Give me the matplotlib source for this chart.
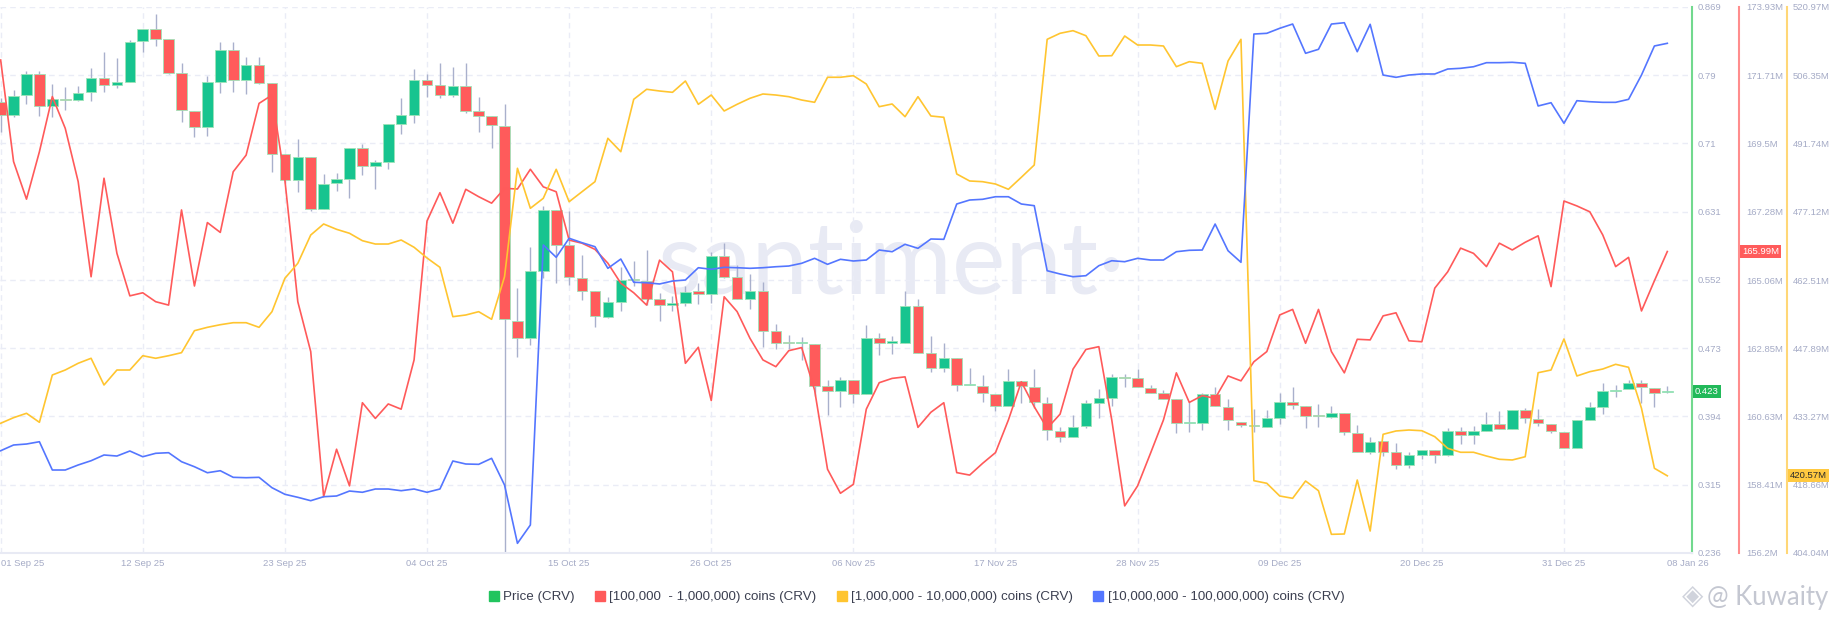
import numpy as np
import pandas as pd
import matplotlib
matplotlib.use("Agg")
import matplotlib.pyplot as plt
import matplotlib.dates as mdates
from matplotlib.lines import Line2D

plt.rcParams['font.family'] = ['Liberation Sans', 'DejaVu Sans']

# daily data, 01 Sep 25 -> 08 Jan 26
dates = pd.date_range("2025-09-01", "2026-01-08", freq="D")

open_ = [0.759, 0.744, 0.767, 0.791, 0.754, 0.762, 0.761, 0.770, 0.787, 0.778,
         0.782, 0.830, 0.843, 0.832, 0.793, 0.749, 0.730, 0.782, 0.819, 0.784,
         0.802, 0.781, 0.699, 0.668, 0.695, 0.635, 0.665, 0.670, 0.705, 0.685,
         0.689, 0.733, 0.744, 0.784, 0.778, 0.767, 0.777, 0.748, 0.743, 0.731,
         0.505, 0.485, 0.563, 0.634, 0.593, 0.555, 0.540, 0.510, 0.527, 0.553,
         0.551, 0.530, 0.524, 0.526, 0.540, 0.536, 0.580, 0.556, 0.530, 0.540,
         0.493, 0.480, 0.479, 0.478, 0.430, 0.424, 0.437, 0.420, 0.485, 0.480,
         0.480, 0.522, 0.468, 0.451, 0.462, 0.4308, 0.430, 0.420, 0.407, 0.435,
         0.429, 0.410, 0.378, 0.371, 0.383, 0.410, 0.416, 0.4397, 0.439, 0.427,
         0.421, 0.415, 0.3868, 0.387, 0.420, 0.405, 0.388, 0.3836, 0.382, 0.392,
         0.411, 0.407, 0.3949, 0.394, 0.398, 0.375, 0.353, 0.366, 0.353, 0.338,
         0.350, 0.355, 0.350, 0.377, 0.373, 0.377, 0.386, 0.380, 0.402, 0.391,
         0.386, 0.376, 0.358, 0.390, 0.405, 0.424, 0.426, 0.433, 0.427, 0.4225]
high = [0.764, 0.773, 0.795, 0.795, 0.780, 0.776, 0.777, 0.798, 0.817, 0.810,
        0.831, 0.843, 0.861, 0.832, 0.804, 0.749, 0.789, 0.828, 0.829, 0.811,
        0.811, 0.781, 0.699, 0.716, 0.695, 0.675, 0.676, 0.705, 0.710, 0.692,
        0.733, 0.763, 0.797, 0.791, 0.804, 0.799, 0.804, 0.765, 0.743, 0.757,
        0.543, 0.591, 0.638, 0.634, 0.633, 0.582, 0.540, 0.533, 0.568, 0.574,
        0.587, 0.537, 0.534, 0.545, 0.549, 0.585, 0.595, 0.570, 0.560, 0.550,
        0.502, 0.489, 0.486, 0.478, 0.437, 0.440, 0.437, 0.500, 0.491, 0.487,
        0.540, 0.531, 0.488, 0.479, 0.462, 0.450, 0.442, 0.420, 0.449, 0.435,
        0.449, 0.417, 0.382, 0.396, 0.413, 0.426, 0.444, 0.444, 0.449, 0.431,
        0.425, 0.415, 0.411, 0.422, 0.428, 0.414, 0.388, 0.403, 0.402, 0.422,
        0.428, 0.407, 0.409, 0.407, 0.398, 0.384, 0.370, 0.366, 0.363, 0.353,
        0.355, 0.355, 0.381, 0.382, 0.383, 0.400, 0.401, 0.402, 0.404, 0.403,
        0.386, 0.376, 0.390, 0.411, 0.433, 0.431, 0.437, 0.437, 0.427, 0.430]
low = [0.724, 0.742, 0.757, 0.743, 0.741, 0.750, 0.760, 0.760, 0.771, 0.775,
       0.782, 0.817, 0.824, 0.791, 0.736, 0.718, 0.720, 0.769, 0.771, 0.768,
       0.780, 0.678, 0.665, 0.655, 0.633, 0.635, 0.656, 0.648, 0.674, 0.658,
       0.681, 0.722, 0.735, 0.765, 0.764, 0.765, 0.746, 0.724, 0.705, 0.236,
       0.463, 0.477, 0.555, 0.549, 0.547, 0.529, 0.498, 0.508, 0.516, 0.545,
       0.524, 0.505, 0.516, 0.522, 0.525, 0.526, 0.555, 0.530, 0.519, 0.475,
       0.472, 0.473, 0.460, 0.418, 0.396, 0.405, 0.410, 0.420, 0.466, 0.467,
       0.479, 0.468, 0.446, 0.446, 0.424, 0.431, 0.411, 0.401, 0.407, 0.410,
       0.404, 0.367, 0.365, 0.371, 0.381, 0.392, 0.406, 0.429, 0.428, 0.421,
       0.415, 0.375, 0.376, 0.379, 0.406, 0.379, 0.382, 0.376, 0.382, 0.386,
       0.403, 0.381, 0.382, 0.392, 0.373, 0.353, 0.351, 0.348, 0.333, 0.335,
       0.345, 0.340, 0.348, 0.362, 0.362, 0.377, 0.380, 0.380, 0.387, 0.383,
       0.375, 0.358, 0.358, 0.390, 0.397, 0.417, 0.426, 0.410, 0.405, 0.421]
close = [0.744, 0.766, 0.791, 0.754, 0.762, 0.761, 0.769, 0.787, 0.779, 0.782,
         0.829, 0.843, 0.832, 0.793, 0.750, 0.730, 0.782, 0.819, 0.784, 0.802,
         0.781, 0.699, 0.668, 0.695, 0.635, 0.664, 0.670, 0.705, 0.685, 0.689,
         0.733, 0.744, 0.784, 0.779, 0.767, 0.777, 0.748, 0.743, 0.732, 0.507,
         0.485, 0.563, 0.634, 0.593, 0.556, 0.540, 0.511, 0.527, 0.553, 0.552,
         0.530, 0.524, 0.526, 0.539, 0.536, 0.580, 0.556, 0.530, 0.540, 0.493,
         0.480, 0.479, 0.480, 0.430, 0.424, 0.437, 0.420, 0.485, 0.480, 0.481,
         0.522, 0.468, 0.451, 0.462, 0.431, 0.4312, 0.421, 0.407, 0.435, 0.430,
         0.411, 0.379, 0.371, 0.382, 0.410, 0.416, 0.440, 0.4392, 0.428, 0.422,
         0.415, 0.387, 0.3872, 0.420, 0.406, 0.390, 0.384, 0.3832, 0.392, 0.411,
         0.408, 0.395, 0.3945, 0.398, 0.376, 0.353, 0.365, 0.353, 0.338, 0.350,
         0.355, 0.350, 0.377, 0.373, 0.377, 0.386, 0.380, 0.402, 0.392, 0.387,
         0.377, 0.358, 0.390, 0.405, 0.424, 0.425, 0.433, 0.428, 0.421, 0.423]

# [100,000 - 1,000,000) coins, in millions of CRV
holders_100k_1m = [172.21, 168.91, 167.69, 169.23, 171.02, 169.99, 168.26, 165.17, 168.37, 165.93,
                   164.55, 164.65, 164.36, 164.25, 167.34, 164.87, 166.93, 166.61, 168.58, 169.12,
                   170.80, 171.07, 168.31, 164.36, 162.74, 158.03, 159.57, 158.38, 161.08, 160.57,
                   161.04, 160.87, 162.47, 166.98, 167.90, 166.91, 168.01, 167.77, 167.56, 168.04,
                   168.02, 168.66, 168.09, 167.93, 166.36, 166.26, 166.06, 165.61, 164.96, 164.65,
                   164.25, 165.71, 165.33, 162.36, 162.88, 161.15, 164.52, 164.04, 163.17, 162.47,
                   162.25, 162.77, 162.87, 161.49, 158.92, 158.14, 158.43, 160.87, 161.73, 161.87,
                   161.92, 160.28, 160.77, 161.08, 158.81, 158.73, 159.11, 159.46, 160.52, 161.76,
                   160.95, 160.25, 160.71, 162.17, 162.81, 162.90, 160.52, 157.73, 158.38, 159.44,
                   160.52, 162.05, 161.09, 161.31, 161.22, 161.95, 161.79, 162.41, 162.74, 163.93,
                   164.11, 163.01, 164.11, 162.74, 162.05, 163.14, 163.12, 163.90, 164.00, 163.09,
                   163.06, 164.80, 165.33, 166.10, 165.93, 165.50, 166.26, 166.04, 166.29, 166.50,
                   164.85, 167.63, 167.47, 167.28, 166.53, 165.50, 165.80, 164.06, 165.04, 165.99]

# [1,000,000 - 10,000,000) coins, in millions of CRV
holders_1m_10m = [431.82, 433.02, 433.96, 432.03, 442.16, 443.23, 444.67, 445.74, 440.02, 443.23,
                  443.23, 446.29, 445.74, 446.29, 446.94, 451.65, 452.37, 452.93, 453.36, 453.36,
                  452.37, 455.72, 462.87, 466.08, 472.14, 474.50, 473.36, 472.51, 470.92, 470.21,
                  470.21, 471.07, 469.51, 467.22, 465.22, 454.65, 455.01, 455.72, 454.09, 463.21,
                  486.43, 477.86, 480.00, 486.21, 479.27, 481.42, 483.56, 492.85, 489.98, 501.20,
                  503.35, 502.98, 502.70, 505.12, 500.13, 502.12, 498.70, 500.13, 501.42, 502.34,
                  502.12, 501.76, 501.05, 500.56, 505.92, 505.92, 506.26, 504.48, 499.62, 500.20,
                  497.48, 501.76, 497.63, 497.35, 485.21, 483.71, 483.56, 483.06, 481.93, 484.50,
                  487.13, 514.05, 515.34, 515.90, 514.82, 510.48, 510.54, 514.76, 512.83, 512.83,
                  512.62, 508.19, 509.26, 508.91, 499.06, 509.41, 514.05, 419.52, 418.97, 416.25,
                  415.75, 419.46, 417.38, 408.04, 408.11, 419.67, 408.75, 429.46, 430.17, 430.38,
                  430.23, 428.95, 426.46, 425.61, 425.61, 424.81, 424.11, 423.96, 424.66, 442.65,
                  443.23, 449.87, 441.95, 442.87, 443.44, 444.45, 443.81, 435.03, 422.18, 420.57]

# [10,000,000 - 100,000,000) coins, no axis on the chart -> relative index
holders_10m_100m = [18.73, 19.78, 19.96, 20.38, 15.20, 15.20, 16.12, 16.90, 17.95, 17.76,
                    18.68, 17.63, 18.26, 18.37, 16.72, 15.80, 14.70, 15.07, 13.86, 13.79,
                    13.86, 11.96, 10.75, 10.20, 9.58, 10.31, 10.44, 11.35, 11.12, 11.72,
                    11.72, 11.41, 11.72, 11.12, 11.72, 16.85, 16.30, 16.24, 17.34, 12.45,
                    1.77, 5.13, 56.41, 54.16, 57.64, 56.83, 56.10, 52.14, 53.84, 49.58,
                    49.50, 49.27, 49.81, 50.00, 52.25, 51.96, 52.32, 52.25, 52.14, 52.25,
                    52.43, 52.56, 53.06, 53.97, 52.87, 53.79, 53.48, 53.66, 55.49, 55.18,
                    56.54, 55.80, 57.51, 57.45, 63.92, 64.65, 64.78, 65.25, 65.25, 63.92,
                    63.61, 51.70, 51.10, 50.60, 50.79, 52.62, 53.53, 53.35, 53.97, 53.66,
                    53.66, 55.18, 55.44, 55.49, 60.25, 55.36, 53.24, 95.05, 95.18, 96.10,
                    96.88, 91.52, 92.25, 96.88, 97.12, 91.81, 96.83, 87.54, 87.12, 87.54,
                    87.73, 87.73, 88.64, 88.77, 89.06, 89.80, 89.80, 89.87, 89.69, 81.87,
                    82.47, 78.70, 82.84, 82.65, 82.54, 82.54, 83.09, 87.54, 92.86, 93.35]

price_labels = ['0.236', '0.315', '0.394', '0.473', '0.552', '0.631', '0.71', '0.79', '0.869']
red_labels = ['156.2M', '158.41M', '160.63M', '162.85M', '165.06M', '167.28M', '169.5M', '171.71M', '173.93M']
yellow_labels = ['404.04M', '418.66M', '433.27M', '447.89M', '462.51M', '477.12M', '491.74M', '506.35M', '520.97M']

tick_dates = list(pd.date_range("2025-09-01", periods=12, freq="11D")) + [pd.Timestamp("2026-01-08")]

legend_labels = ['Price (CRV)', '[100,000  - 1,000,000) coins (CRV)',
                 '[1,000,000 - 10,000,000) coins (CRV)', '[10,000,000 - 100,000,000) coins (CRV)']

# colours
C_UP, C_DN = '#17c48f', '#ff5b5b'
C_PRICE = '#22c45e'
C_RED, C_YEL, C_BLU = '#ff5a5a', '#ffc530', '#5476ff'
TXT = '#a5abc6'
GRIDC = '#eaecf6'

W, H = 1835, 621
fig = plt.figure(figsize=(W / 100, H / 100), dpi=100)
ax = fig.add_axes([0, 68 / H, 1692 / W, 546 / H])
ax_r = ax.twinx()
ax_y = ax.twinx()
ax_b = ax.twinx()

x = mdates.date2num(dates)
o, hi, lo, c = map(np.array, (open_, high, low, close))
up = c >= o

# candles
ax.vlines(x, lo, hi, color='#a9b0cc', lw=1.0, zorder=2)
ax.bar(x, np.maximum(np.abs(c - o), 0.0013), bottom=np.minimum(o, c), width=0.82,
       color=np.where(up, C_UP, C_DN), edgecolor='#9fe3b8', linewidth=0.6, zorder=3)

# holder lines
ax_r.plot(x, holders_100k_1m, color=C_RED, lw=1.2, zorder=3)
ax_y.plot(x, holders_1m_10m, color=C_YEL, lw=1.2, zorder=3)
ax_b.plot(x, holders_10m_100m, color=C_BLU, lw=1.2, zorder=3)

x0 = mdates.date2num(pd.Timestamp("2025-09-01")) - 0.05
ax.set_xlim(x0, x0 + 1692 / 12.92)

ax.set_ylim(0.236, 0.869)
ax_r.set_ylim(156.2, 173.93)
ax_y.set_ylim(404.04, 520.97)
ax_b.set_ylim(0, 100)

# right axes
ax.yaxis.tick_right()
ax.set_yticks(np.linspace(0.236, 0.869, 9))
ax.set_yticklabels(price_labels)
ax_r.set_yticks(np.linspace(156.2, 173.93, 9))
ax_r.set_yticklabels(red_labels)
ax_y.set_yticks(np.linspace(404.04, 520.97, 9))
ax_y.set_yticklabels(yellow_labels)
ax_b.set_yticks([])

for a in (ax, ax_r, ax_y, ax_b):
    for s in ('top', 'left'):
        a.spines[s].set_visible(False)
for a in (ax_r, ax_y, ax_b):
    a.spines['bottom'].set_visible(False)
ax_b.spines['right'].set_visible(False)
ax.spines['bottom'].set_color('#e8eaf4')
ax.spines['bottom'].set_linewidth(1.5)

ax.spines['right'].set_color('#72d98e')
ax_r.spines['right'].set_color('#ff8d8d')
ax_y.spines['right'].set_color('#ffd777')
ax_r.spines['right'].set_position(('outward', 47 * 0.72))
ax_y.spines['right'].set_position(('outward', 95 * 0.72))
for a in (ax, ax_r, ax_y):
    a.spines['right'].set_linewidth(1.5)
ax.tick_params(axis='y', length=0, pad=4.3, labelsize=6.8, labelcolor=TXT)
ax_r.tick_params(axis='y', length=0, pad=5.0, labelsize=6.8, labelcolor=TXT)
ax_y.tick_params(axis='y', length=0, pad=4.3, labelsize=6.8, labelcolor=TXT)

# x axis
ax.set_xticks(mdates.date2num(tick_dates))
ax.set_xticklabels([d.strftime('%d %b %y') for d in tick_dates])
ax.tick_params(axis='x', length=0, pad=4.0, labelsize=6.8, labelcolor=TXT)
xl = ax.get_xticklabels()
xl[0].set_ha('left')
xl[-1].set_ha('left')

ax.set_axisbelow(True)
ax.grid(True, color=GRIDC, lw=1.0, linestyle=(0, (4, 3)))
ax.xaxis.get_gridlines()[-1].set_visible(False)

# watermark
ax.text(0.527, 0.476, 'santiment\u00b7', transform=ax.transAxes, ha='center', va='baseline',
        fontsize=73, color='#e8eaf4', family=['Lato', 'DejaVu Sans'], fontweight='normal', zorder=0)

# last value badges
ax.text(1 + 3 / 1692, c[-1], f'{c[-1]:.3f}', transform=ax.get_yaxis_transform(), ha='left', va='center',
        fontsize=6.8, color='white', zorder=10, clip_on=False,
        bbox=dict(boxstyle='square,pad=0.2', fc='#22b95a', ec='none'))
ax_r.text(1 + 50 / 1692, holders_100k_1m[-1], f'{holders_100k_1m[-1]:.2f}M', transform=ax_r.get_yaxis_transform(),
          ha='left', va='center', fontsize=6.8, color='white', zorder=10, clip_on=False,
          bbox=dict(boxstyle='square,pad=0.2', fc='#ff5b5b', ec='none'))
ax_y.text(1 + 98 / 1692, holders_1m_10m[-1], f'{holders_1m_10m[-1]:.2f}M', transform=ax_y.get_yaxis_transform(),
          ha='left', va='center', fontsize=6.8, color='#2b2b2b', zorder=10, clip_on=False,
          bbox=dict(boxstyle='square,pad=0.2', fc='#ffc940', ec='none'))

# legend
handles = [Line2D([], [], marker='s', linestyle='none', markersize=6.5, color=col)
           for col in (C_PRICE, C_RED, C_YEL, C_BLU)]
fig.legend(handles, legend_labels, loc='center', bbox_to_anchor=(917 / W, 1 - 597 / H), ncol=4,
           frameon=False, fontsize=9.6, handlelength=0.6, handletextpad=0.4, columnspacing=1.6,
           labelcolor='#3b3f50')

# signature
fig.text(1682 / W, 1 - 596 / H, '\u25c8', fontsize=20, color='#d0d3dc', ha='left', va='center', family='DejaVu Sans')
fig.text(1828 / W, 1 - 597 / H, '@ Kuwaity', fontsize=18.5, color='#c4c7d1', ha='right', va='center',
         family=['Lato', 'DejaVu Sans'], fontweight='normal')

fig.savefig('out.png', dpi=100, facecolor='white')
